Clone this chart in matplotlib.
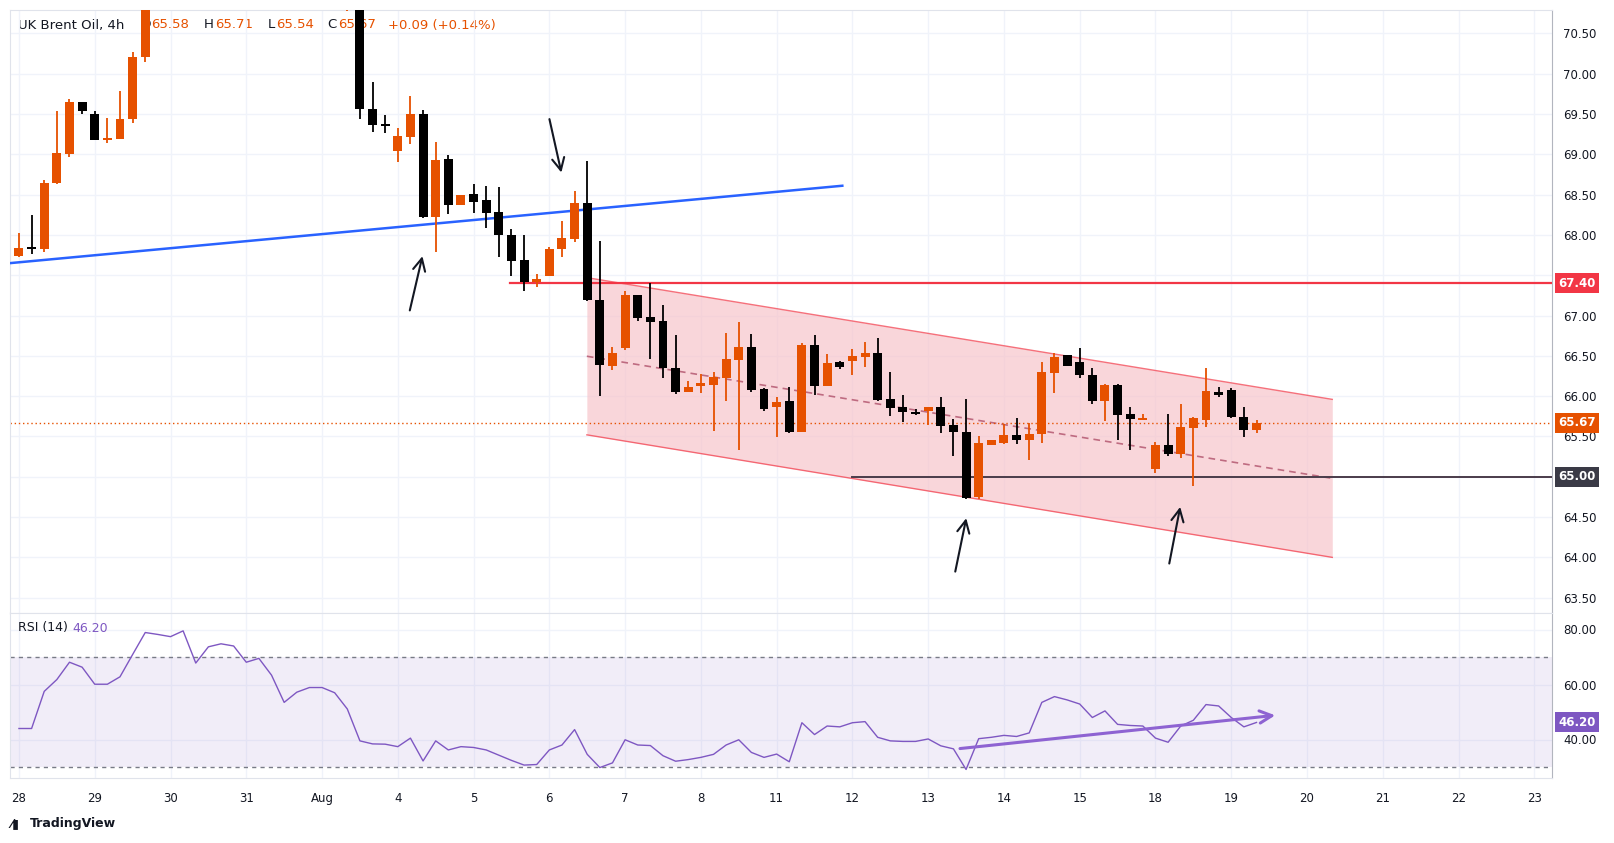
import matplotlib
matplotlib.use("Agg")
import matplotlib.pyplot as plt
import matplotlib.transforms as mtransforms
import numpy as np

# ---- data (4h candles, index = candle number) ----
opens = [67.74,67.86,67.82,68.65,69.00,69.65,69.50,69.19,69.19,69.44,70.21,
         71.0,71.4,71.9,72.1,71.6,71.9,71.8,71.3,71.5,71.1,71.0,71.4,71.3,71.2,71.3,71.1,
         71.2,69.56,69.38,69.04,69.22,69.50,68.22,68.94,68.37,68.51,68.43,68.28,68.00,67.69,
         67.41,67.49,67.82,67.95,68.39,67.19,66.38,66.60,67.26,66.98,66.93,66.35,66.05,66.13,
         66.14,66.23,66.45,66.61,66.09,65.87,65.94,65.56,66.63,66.13,66.42,66.44,66.48,66.54,
         65.96,65.86,65.82,65.81,65.86,65.64,65.55,64.75,65.40,65.42,65.52,65.45,65.53,66.29,
         66.51,66.42,66.26,65.94,66.14,65.78,65.72,65.10,65.40,65.28,65.61,65.71,66.05,66.08,
         65.74,65.58]
highs = [68.02,68.25,68.68,69.54,69.68,69.65,69.54,69.45,69.78,70.27,71.1,
         71.6,72.0,72.3,72.2,72.0,72.1,71.9,71.6,71.6,71.2,71.5,71.6,71.5,71.4,71.4,71.3,
         71.3,69.90,69.49,69.33,69.72,69.55,69.15,68.99,68.50,68.63,68.61,68.59,68.07,68.00,
         67.51,67.85,68.17,68.54,68.92,67.92,66.61,67.31,67.26,67.40,67.13,66.76,66.19,66.27,
         66.30,66.78,66.92,66.77,66.10,65.99,66.11,66.66,66.76,66.52,66.44,66.58,66.67,66.72,
         66.30,66.01,65.84,65.87,65.99,65.72,65.96,65.50,65.46,65.65,65.73,65.67,66.42,66.54,
         66.51,66.60,66.35,66.15,66.15,65.87,65.78,65.43,65.78,65.90,65.74,66.35,66.11,66.10,
         65.86,65.71]
lows = [67.72,67.76,67.79,68.63,68.97,69.50,69.18,69.14,69.19,69.39,70.14,
        70.9,71.3,71.7,71.5,71.5,71.6,71.2,71.1,71.0,70.9,70.95,71.2,71.1,71.0,70.9,70.78,
        69.44,69.28,69.27,68.90,69.13,68.21,67.79,68.26,68.37,68.27,68.08,67.73,67.49,67.31,
        67.35,67.49,67.72,67.91,67.18,66.00,66.33,66.57,66.93,66.46,66.22,66.03,66.05,66.04,
        65.57,65.94,65.33,66.05,65.82,65.49,65.54,65.55,66.02,66.12,66.34,66.26,66.36,65.94,
        65.75,65.68,65.77,65.64,65.54,65.26,64.72,64.73,65.39,65.41,65.41,65.21,65.42,66.04,
        66.38,66.23,65.90,65.69,65.46,65.33,65.71,65.05,65.26,65.23,64.89,65.62,65.99,65.73,
        65.49,65.54]
closes = [67.84,67.84,68.65,69.01,69.65,69.54,69.18,69.21,69.44,70.21,71.0,
          71.4,71.9,72.1,71.6,71.9,71.8,71.3,71.5,71.1,71.0,71.4,71.3,71.2,71.3,71.1,71.2,
          69.56,69.36,69.36,69.23,69.50,68.22,68.93,68.37,68.49,68.41,68.27,68.00,67.68,67.42,
          67.45,67.82,67.96,68.39,67.19,66.39,66.54,67.26,66.97,66.92,66.35,66.05,66.11,66.16,
          66.24,66.46,66.61,66.08,65.84,65.93,65.56,66.63,66.13,66.41,66.36,66.50,66.54,65.95,
          65.85,65.80,65.79,65.86,65.63,65.56,64.74,65.42,65.45,65.52,65.45,65.53,66.30,66.49,
          66.38,66.26,65.94,66.14,65.77,65.72,65.74,65.40,65.28,65.62,65.73,66.06,66.02,65.74,
          65.58,65.67]
rsi = [44.0,44.0,57.5,61.8,68.1,66.3,60.1,60.1,62.8,70.9,78.9,78.2,77.4,79.5,67.8,73.7,
       74.8,74.0,68.1,69.5,63.4,53.5,57.2,58.9,58.9,57.0,51.1,39.5,38.4,38.3,37.4,40.5,
       32.2,39.5,36.2,37.4,37.1,36.2,34.3,32.4,30.7,30.9,36.2,38.0,43.6,34.6,29.8,31.5,
       39.9,38.0,37.8,34.1,32.1,32.7,33.5,34.6,38.0,39.9,35.3,33.5,34.7,31.9,46.1,41.8,
       44.9,44.6,46.1,46.5,40.8,39.5,39.3,39.3,40.2,37.7,36.6,29.1,40.3,40.8,41.5,41.1,
       42.4,53.5,55.6,54.4,52.9,48.0,50.4,45.5,45.1,44.9,40.5,39.0,44.9,47.0,52.7,52.2,
       48.0,44.6,46.2]
day_labels = ['28','29','30','31','Aug','4','5','6','7','8','11','12','13','14','15',
              '18','19','20','21','22','23']
price_ticks = [70.5,70.0,69.5,69.0,68.5,68.0,67.5,67.0,66.5,66.0,65.5,65.0,64.5,64.0,63.5]
rsi_ticks = [40,60,80]
# drawings (index, price)
blue_line = [(-0.71, 67.65), (65.2, 68.61)]
res_level = 67.40; res_start = 38.9
sup_level = 65.00; sup_start = 65.95
chan_x = [44.97, 104.0]
chan_upper = [67.47, 65.96]
chan_lower = [65.52, 64.00]
last_price = 65.67
rsi_last = 46.20
arrows = [((30.9, 67.03), (32.0, 67.77)), ((41.96, 69.47), (43.0, 68.74)),
          ((74.1, 63.79), (75.06, 64.52)), ((91.05, 63.89), (92.0, 64.66))]
rsi_arrow = ((74.3, 36.6), (99.7, 48.9))

ORANGE = '#e65100'; BLACK = '#000000'; GRID = '#f0f3fa'; TXT = '#131722'
W, H = 1615, 843
fig = plt.figure(figsize=(W/100, H/100), dpi=100)
fig.patch.set_facecolor('white')
L = 10/W; R = 1552/W
ax = fig.add_axes([L, 1-613/H, R-L, (613-10)/H])
ax2 = fig.add_axes([L, 1-778/H, R-L, (778-613)/H], sharex=ax)
xmin, xmax = -0.71, 121.4
idx = np.arange(len(closes))

for a in (ax, ax2):
    a.set_facecolor('white')
    for s in a.spines.values():
        s.set_color('#e0e3eb')
    a.spines['right'].set_color('#b2b5be')
    a.yaxis.tick_right()
    a.tick_params(axis='y', length=0, labelsize=8.5, colors=TXT, pad=8)
    a.tick_params(axis='x', length=0)
    a.set_axisbelow(True)
day_pos = [6*k for k in range(len(day_labels))]
ax.set_xlim(xmin, xmax)
ax.set_xticks(day_pos)
ax.tick_params(axis='x', labelbottom=False)
ax2.set_xticks(day_pos)
ax2.set_xticklabels(day_labels, fontsize=8.5, color=TXT)
ax2.tick_params(axis='x', pad=10)
for a in (ax, ax2):
    a.grid(True, color=GRID, lw=1)

ax.set_ylim(63.31, 70.79)
ax.set_yticks(price_ticks)
def _lab(v):
    if abs(v - res_level) < 0.11 or abs(v - sup_level) < 0.01:
        return ''
    return f'{v:.2f}'
ax.set_yticklabels([_lab(v) for v in price_ticks])

# channel
cx = np.array(chan_x); cu = np.array(chan_upper); cl = np.array(chan_lower)
ax.fill_between(cx, cl, cu, color='#f7c5cb', alpha=0.7, lw=0, zorder=1)
ax.plot(cx, cu, color='#f23645', lw=1, alpha=0.7, zorder=2)
ax.plot(cx, cl, color='#f23645', lw=1, alpha=0.7, zorder=2)
ax.plot(cx, (cu+cl)/2, color='#b0506a', lw=1.2, ls=(0, (4, 3)), alpha=0.8, zorder=2)

# lines
ax.plot([p[0] for p in blue_line], [p[1] for p in blue_line], color='#2962ff', lw=1.8, zorder=3)
ax.plot([res_start, xmax], [res_level]*2, color='#f23645', lw=1.6, zorder=3)
ax.plot([sup_start, xmax], [sup_level]*2, color='#4a3c4a', lw=1.4, zorder=3)
ax.axhline(last_price, color=ORANGE, lw=1, ls=(0, (1, 2)), zorder=2)

# candles
o = np.array(opens); c = np.array(closes); h = np.array(highs); l = np.array(lows)
cols = [ORANGE if cc >= oo else BLACK for oo, cc in zip(o, c)]
ax.vlines(idx, l, h, colors=cols, lw=1.3, zorder=4)
small = np.abs(c-o) < 0.03
bh = np.where(small, 0.03, np.abs(c-o))
ax.bar(idx, bh, bottom=np.minimum(o, c)-np.where(small, 0.015, 0), width=0.71,
       color=cols, lw=0, zorder=5)

for (x0, y0), (x1, y1) in arrows:
    ax.annotate('', xy=(x1, y1), xytext=(x0, y0),
                arrowprops=dict(arrowstyle='->', color='#131722', lw=1.5, mutation_scale=22), zorder=6)

# title
tkw = dict(transform=ax.transAxes, fontsize=9.5, va='center', zorder=0)
ty = 1-15/603
parts = [('UK Brent Oil, 4h', TXT, 0), ('O', TXT, 122), ('65.58', ORANGE, 133), ('H', TXT, 186),
         ('65.71', ORANGE, 197), ('L', TXT, 250), ('65.54', ORANGE, 258), ('C', TXT, 309),
         ('65.67', ORANGE, 320), ('+0.09 (+0.14%)', ORANGE, 370)]
for t, col, px in parts:
    ax.text((8+px)/1542, ty, t, color=col, **tkw)

def tag(a, y, txt, fc, tc='white'):
    tr = mtransforms.blended_transform_factory(a.transAxes, a.transData)
    a.text(1.004, y, txt, transform=tr, fontsize=8.5, color=tc, va='center', ha='left',
           fontweight='bold', bbox=dict(boxstyle='square,pad=0.3', fc=fc, ec='none'), zorder=10, clip_on=False)
tag(ax, res_level, f'{res_level:.2f}', '#f23645')
tag(ax, last_price, f'{last_price:.2f}', ORANGE)
tag(ax, sup_level, f'{sup_level:.2f}', '#3a3a46')

# RSI
ax2.set_ylim(26, 86)
ax2.set_yticks(rsi_ticks)
ax2.set_yticklabels([f'{v:.2f}' for v in rsi_ticks])
ax2.axhspan(30, 70, color='#7e57c2', alpha=0.1, lw=0)
for lv in (30, 70):
    ax2.axhline(lv, color='#787b86', lw=1, ls=(0, (3, 3)))
ax2.plot(idx, rsi, color='#7e57c2', lw=1, zorder=4)
ax2.annotate('', xy=rsi_arrow[1], xytext=rsi_arrow[0],
             arrowprops=dict(arrowstyle='->', color='#8e63d2', lw=2.2, mutation_scale=22), zorder=5)
ax2.text(8/1542, 1-15/165, 'RSI (14)', transform=ax2.transAxes, fontsize=9, color=TXT, va='center')
ax2.text(62/1542, 1-15/165, f'{rsi_last:.2f}', transform=ax2.transAxes, fontsize=9, color='#7e57c2', va='center')
tag(ax2, rsi_last, f'{rsi_last:.2f}', '#7e57c2')

fig.text(30/W, 1-824/H, 'TradingView', fontsize=9, fontweight='bold', color=TXT, va='center')
fig.text(10/W, 1-824/H, '⁄▮', fontsize=9, fontweight='bold', color=TXT, va='center')
fig.savefig('out.png', dpi=100, facecolor='white')
